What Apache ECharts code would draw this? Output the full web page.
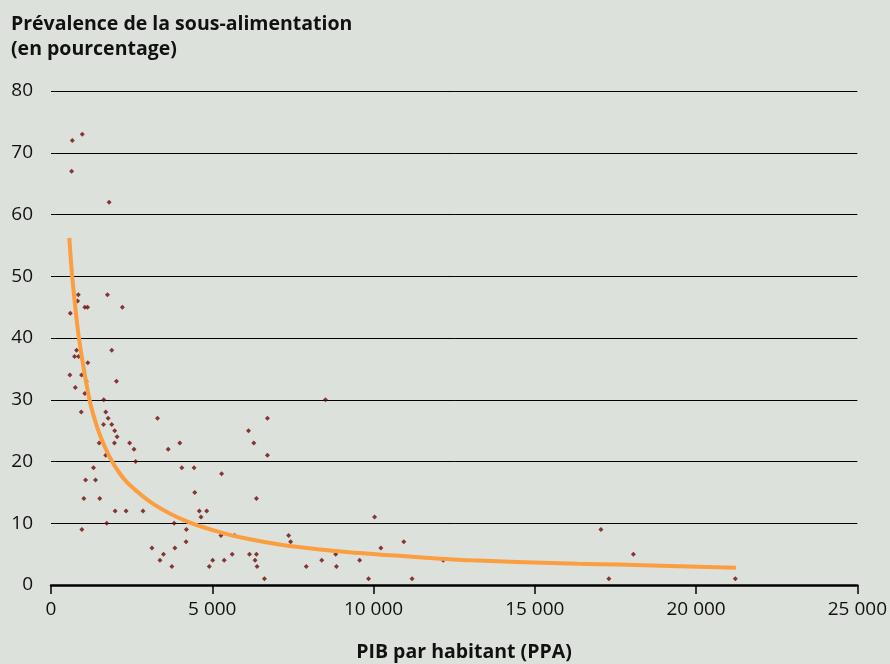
<!DOCTYPE html>
<html>
<head>
<meta charset="utf-8">
<script src="https://cdn.jsdelivr.net/npm/echarts@6/dist/echarts.min.js"></script>
<style>
  html, body { margin: 0; padding: 0; background: #dde1dc; }
  #chart { width: 890px; height: 664px; }
</style>
</head>
<body>
<div id="chart"></div>
<script>
// PIB par habitant (PPA) / prévalence de la sous-alimentation (%)
const pibValues = [
  660, 969, 639, 1802, 846, 824, 599, 1049, 1133, 1750,
  2213, 793, 731, 855, 1142, 1883, 586, 948, 1093, 2028,
  753, 1049, 1636, 938, 1698, 1772, 1627, 1883, 1975, 2049,
  1494, 1966, 2438, 2574, 1698, 2623, 3302, 1318, 1071, 1380,
  1019, 1512, 1988, 2327, 2852, 1728, 957, 3633, 3994, 4056,
  4435, 4457, 4599, 3818, 4198, 4188, 3130, 3840, 3488, 3377,
  3747, 8509, 6710, 6123, 6287, 6710, 5290, 6370, 4827, 4651,
  5269, 5691, 7367, 7429, 5617, 6154, 6370, 5012, 5370, 6327,
  4907, 6389, 7914, 8395, 8849, 8827, 6617, 10031, 10228, 10938,
  9568, 9846, 11194, 12160, 17049, 18056, 17296, 21216
]
const prevalenceValues = [
  72, 73, 67, 62, 47, 46, 44, 45, 45, 47,
  45, 38, 37, 37, 36, 38, 34, 34, 33, 33,
  32, 31, 30, 28, 28, 27, 26, 26, 25, 24,
  23, 23, 23, 22, 21, 20, 27, 19, 17, 17,
  14, 14, 12, 12, 12, 10, 9, 22, 23, 19,
  19, 15, 12, 10, 9, 7, 6, 6, 5, 4,
  3, 30, 27, 25, 23, 21, 18, 14, 12, 11,
  8, 8, 8, 7, 5, 5, 5, 4, 4, 4,
  3, 3, 3, 4, 3, 5, 1, 11, 6, 7,
  4, 1, 1, 4, 9, 5, 1, 1
]
// courbe de tendance
const trendPib = [568, 660, 865, 1154, 1300, 1537, 1812, 2100, 2400, 3179, 4210, 5340, 6370, 7398, 9250, 11410, 13000, 16350, 17580, 21235]
const trendValues = [56.2, 49.8, 40, 31, 27.8, 24, 20.8, 18.3, 16.4, 13.1, 10.3, 8.4, 7.2, 6.3, 5.3, 4.5, 4.0, 3.45, 3.3, 2.8]

const xTicks = [0, 5000, 10000, 15000, 20000, 25000]

const FONT = '"Open Sans", "Noto Sans", sans-serif'

const scatterData = pibValues.map((x, i) => [x, prevalenceValues[i]])
const trendData = trendPib.map((x, i) => [x, trendValues[i]])

const chart = echarts.init(document.getElementById('chart'))

const option = {
  backgroundColor: '#dde1dc',
  animation: false,
  textStyle: { fontFamily: FONT },
  grid: { left: 51, right: 30, top: 91, bottom: 79, containLabel: false },
  graphic: [
    {
      type: 'text', left: 11, top: 12,
      style: {
        text: 'Prévalence de la sous-alimentation\n(en pourcentage)',
        font: 'bold 19.5px ' + FONT, lineHeight: 25, fill: '#111'
      }
    },
    {
      type: 'text', x: 464, y: 652,
      style: {
        text: 'PIB par habitant (PPA)',
        font: 'bold 19.5px ' + FONT, fill: '#111', align: 'center', verticalAlign: 'middle'
      }
    }
  ],
  xAxis: {
    type: 'value',
    min: 0, max: 25000, interval: 5000,
    axisLine: { show: true, onZero: false, lineStyle: { color: '#000', width: 2.5 } },
    axisTick: { show: true, length: 9, lineStyle: { color: '#000', width: 1.5 } },
    splitLine: { show: false },
    axisLabel: {
      margin: 15, color: '#111', fontSize: 19, fontFamily: FONT,
      formatter: (v) => xTicks.includes(v) ? String(v).replace(/\B(?=(\d{3})+(?!\d))/g, ' ') : ''
    }
  },
  yAxis: {
    type: 'value',
    min: 0, max: 80, interval: 10,
    axisLine: { show: false },
    axisTick: { show: false },
    splitLine: { lineStyle: { color: '#000', width: 1 } },
    axisLabel: { margin: 18, color: '#111', fontSize: 19, fontFamily: FONT }
  },
  series: [
    {
      type: 'scatter',
      data: scatterData,
      symbol: 'diamond',
      symbolSize: 5,
      itemStyle: { color: '#6e0a0a' },
      z: 2
    },
    {
      type: 'line',
      data: trendData,
      smooth: 0.3,
      showSymbol: false,
      lineStyle: { color: '#fa9e40', width: 4 },
      z: 3
    }
  ]
}

chart.setOption(option)
</script>
</body>
</html>
